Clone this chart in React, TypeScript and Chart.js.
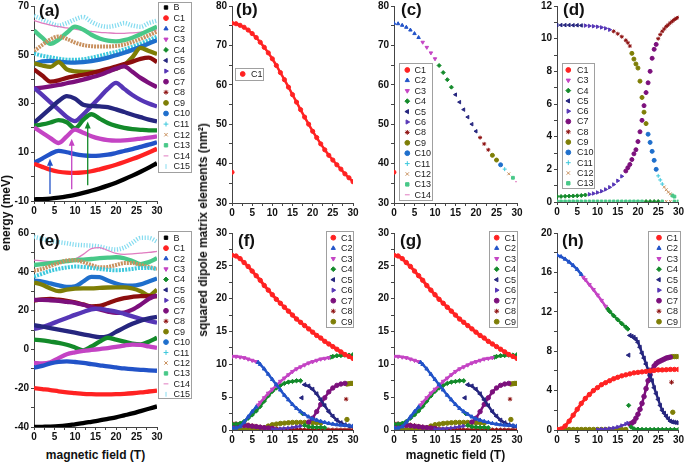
import React, { useEffect, useRef } from 'react';
import { Chart, registerables } from 'chart.js';
import { drawPoint } from 'chart.js/helpers';

Chart.register(...registerables);

const FONT = '"Liberation Sans", Arial, Helvetica, sans-serif';

// ---------------- series styles ----------------
const STYLE: Record<string, { color: string; shape: string; rot?: number }> = {
  B: { color: '#000000', shape: 'rect' },
  C1: { color: '#ff2222', shape: 'circle' },
  C2: { color: '#2253c8', shape: 'triangle' },
  C3: { color: '#c444c4', shape: 'triangle', rot: 180 },
  C4: { color: '#138a2a', shape: 'rectRot' },
  C5: { color: '#26267f', shape: 'triangle', rot: 270 },
  C6: { color: '#5636b6', shape: 'triangle', rot: 90 },
  C7: { color: '#7c107c', shape: 'circle' },
  C8: { color: '#8c0e0e', shape: 'star' },
  C9: { color: '#7e7e06', shape: 'circle' },
  C10: { color: '#1f6fcc', shape: 'circle' },
  C11: { color: '#3cc8dc', shape: 'cross' },
  C12: { color: '#c8915f', shape: 'crossRot' },
  C13: { color: '#48c888', shape: 'rect' },
  C14: { color: '#e07cc0', shape: 'line' },
  C15: { color: '#86dcf0', shape: 'line', rot: 90 },
};

// ---------------- data ----------------
const fieldStep2 = [0, 2, 4, 6, 8, 10, 12, 14, 16, 18, 20, 22, 24, 26, 28, 30];
const fieldStep1 = [0, 1, 2, 3, 4, 5, 6, 7, 8, 9, 10, 11, 12, 13, 14, 15, 16, 17, 18, 19, 20, 21, 22, 23, 24, 25, 26, 27, 28, 29, 30];

// (a) energy levels, upper set (meV)
const aB = [-9.3, -9.2, -9.0, -8.6, -8.1, -7.5, -6.7, -5.8, -4.8, -3.7, -2.5, -1.1, 0.4, 2.0, 3.7, 5.5];
const aC1 = [5.3, 4.0, 2.8, 2.0, 1.6, 1.5, 1.7, 2.2, 3.0, 3.9, 4.9, 6.0, 7.2, 8.5, 9.9, 11.4];
const aC2 = [5.6, 7.4, 9.3, 10.6, 10.0, 9.2, 8.7, 8.5, 8.6, 9.0, 9.7, 10.5, 11.3, 12.2, 13.1, 14.1];
const aC3 = [20.2, 18.0, 15.8, 13.8, 16.5, 19.3, 18.0, 16.6, 15.6, 15.0, 14.8, 14.9, 15.2, 15.6, 16.0, 16.5];
const aC4 = [20.9, 21.4, 22.2, 23.2, 22.3, 19.8, 23.3, 25.6, 23.8, 22.0, 20.8, 20.0, 19.5, 19.2, 19.0, 19.0];
const aC5 = [22.0, 25.0, 28.0, 31.0, 33.0, 32.0, 29.5, 29.0, 28.8, 28.5, 27.6, 26.5, 25.4, 24.4, 23.4, 22.6];
const aC6 = [36.5, 33.5, 30.5, 27.5, 24.5, 22.8, 25.5, 29.0, 32.5, 36.0, 38.5, 36.0, 33.5, 31.5, 30.0, 28.8];
const aC7 = [36.2, 36.5, 37.0, 37.6, 38.3, 39.0, 39.8, 40.7, 41.7, 43.0, 44.3, 45.2, 43.0, 40.5, 38.5, 36.7];
const aC8 = [44.0, 41.5, 39.0, 39.5, 40.5, 41.2, 41.8, 42.5, 43.3, 44.2, 45.2, 46.2, 47.2, 48.3, 48.8, 47.0];
const aC9 = [46.5, 45.6, 45.0, 47.0, 44.0, 43.2, 43.0, 43.0, 43.1, 43.5, 44.3, 45.8, 49.0, 52.8, 51.5, 50.3];
const aC10 = [46.0, 47.3, 47.5, 47.2, 46.9, 46.8, 47.0, 47.4, 48.0, 48.8, 49.8, 50.8, 52.0, 53.3, 54.6, 56.0];
const aC11 = [50.5, 49.6, 49.0, 48.4, 48.0, 47.9, 48.2, 48.8, 49.6, 50.4, 51.2, 52.2, 53.3, 54.6, 56.0, 57.4];
const aC12 = [51.5, 54.0, 56.3, 57.5, 56.5, 55.0, 54.0, 53.5, 53.4, 53.4, 53.6, 54.2, 55.2, 56.5, 58.0, 59.5];
const aC13 = [60.0, 57.0, 54.5, 56.2, 59.0, 61.5, 60.3, 58.2, 56.7, 55.8, 55.5, 56.0, 57.0, 58.4, 60.0, 61.5];
const aC14 = [64.0, 63.0, 62.2, 61.5, 61.0, 60.5, 60.0, 59.6, 59.2, 59.0, 58.8, 58.8, 59.0, 59.3, 59.7, 60.2];
const aC15 = [66.0, 64.5, 63.0, 62.0, 63.0, 64.5, 65.5, 63.5, 62.0, 61.5, 62.0, 63.0, 62.0, 61.5, 63.0, 64.0];

// (a) transition arrows
const arrowField = [3.9, 9.2, 13.1];
const arrowFrom = [-7.1, -5.2, -3.5];
const arrowTo = [7.3, 15.5, 22.6];
const arrowState = ['C2', 'C3', 'C4'];

// (e) energy levels, lower set (meV)
const eB = [-40.0, -39.9, -39.8, -39.6, -39.2, -38.6, -38.0, -37.3, -36.6, -35.8, -35.0, -34.0, -33.0, -31.8, -30.6, -29.4];
const eC1 = [-20.0, -20.5, -21.0, -21.6, -22.1, -22.5, -22.9, -23.1, -23.2, -23.2, -23.1, -22.9, -22.6, -22.2, -21.7, -21.2];
const eC2 = [-9.5, -8.5, -7.2, -6.4, -6.2, -6.5, -7.0, -7.6, -8.2, -8.8, -9.3, -9.8, -10.2, -10.5, -10.8, -11.0];
const eC3 = [-7.0, -7.2, -6.6, -4.5, -2.5, -1.5, -0.8, -0.3, 0.2, 0.7, 1.3, 2.0, 2.5, 2.3, 1.5, 0.8];
const eC4 = [5.0, 4.6, 4.0, 3.4, 2.4, 1.0, -0.5, 1.5, 4.0, 6.0, 5.0, 4.0, 3.0, 2.6, 4.0, 6.0];
const eC5 = [12.5, 11.8, 11.0, 10.2, 9.4, 8.6, 7.8, 7.0, 6.3, 6.8, 9.0, 11.2, 13.2, 14.8, 16.0, 16.8];
const eC6 = [10.5, 11.5, 13.0, 14.6, 16.2, 17.8, 19.3, 20.6, 21.0, 20.2, 19.5, 18.3, 17.0, 15.8, 14.7, 13.8];
const eC7 = [25.5, 25.5, 25.3, 25.0, 24.5, 24.0, 23.0, 21.8, 20.6, 19.5, 18.8, 19.0, 20.5, 23.0, 26.0, 28.0];
const eC8 = [25.2, 25.8, 26.0, 25.6, 25.0, 24.2, 23.2, 22.2, 22.4, 23.8, 25.3, 26.4, 27.1, 27.5, 27.5, 27.3];
const eC9 = [34.5, 33.3, 31.4, 30.0, 30.8, 31.3, 31.5, 31.5, 31.7, 31.9, 32.0, 32.0, 31.4, 30.0, 27.8, 30.8];
const eC10 = [35.5, 35.0, 34.0, 33.0, 32.2, 32.5, 35.0, 37.4, 37.3, 35.5, 34.0, 33.0, 32.8, 33.5, 35.0, 36.5];
const eC11 = [37.5, 39.0, 40.5, 41.5, 42.2, 42.7, 42.5, 42.0, 41.5, 41.0, 40.8, 41.0, 41.5, 42.0, 42.0, 41.5];
const eC12 = [40.5, 41.5, 43.0, 44.5, 45.8, 46.0, 45.0, 43.5, 42.3, 42.5, 43.5, 44.5, 44.5, 43.5, 42.5, 41.5];
const eC13 = [43.5, 44.0, 44.5, 45.0, 45.5, 46.0, 46.3, 46.6, 47.0, 47.3, 47.5, 47.0, 45.5, 44.0, 45.0, 47.0];
const eC14 = [46.0, 45.6, 45.3, 45.0, 45.2, 46.5, 49.0, 52.0, 52.5, 51.0, 49.5, 49.0, 49.2, 49.6, 50.0, 50.5];
const eC15 = [58.0, 57.0, 56.0, 55.3, 54.7, 54.0, 53.7, 53.5, 53.0, 52.0, 51.5, 52.5, 55.0, 57.5, 57.5, 55.5];

// (b) squared dipole element B->C1 (nm^2)
const bC1 = [75.6, 75.5, 75.1, 74.6, 73.9, 73.0, 72.0, 70.8, 69.5, 68.1, 66.6, 64.9, 63.1, 61.3, 59.4, 57.5, 55.6, 53.7, 51.8, 50.0, 48.2, 46.6, 45.0, 43.5, 42.1, 40.9, 39.7, 38.6, 37.4, 36.4, 35.4];
const bC1Extra: [number, number][] = [[0, 37.8]];

// (c) strongest transition, coloured by final state
const cCurve = [75.6, 75.5, 75.1, 74.6, 73.9, 73.0, 72.0, 70.8, 69.5, 68.1, 66.6, 64.9, 63.1, 61.3, 59.4, 57.5, 55.6, 53.7, 51.8, 50.0, 48.2, 46.6, 45.0, 43.5, 42.1, 40.9, 39.7, 38.6, 37.4, 36.4, 35.4];
const cState = ['C2', 'C2', 'C2', 'C2', 'C2', 'C2', 'C2', 'C3', 'C3', 'C3', 'C3', 'C4', 'C4', 'C4', 'C4', 'C5', 'C5', 'C5', 'C5', 'C5', 'C5', 'C8', 'C8', 'C8', 'C9', 'C9', 'C10', 'C11', 'C12', 'C13', 'C14'];
const cC1Extra: [number, number][] = [[0, 37.8]];

// (d)
const dUpperField = [0, 1, 2, 3, 4, 5, 6, 7, 8, 9, 10, 11, 12, 13, 14, 15, 16, 17, 17.5, 18, 18.5, 19, 19.5, 20, 20.5, 21, 21.5, 22, 22.5, 23, 23.5, 24, 24.5, 25, 25.5, 26, 26.5, 27, 27.5, 28, 28.5, 29];
const dUpperVal = [10.83, 10.83, 10.83, 10.83, 10.82, 10.82, 10.81, 10.8, 10.78, 10.76, 10.73, 10.69, 10.63, 10.55, 10.45, 10.3, 10.12, 9.9, 9.75, 9.55, 9.1, 8.75, 8.45, 8.2, 7.4, 6.4, 5.5, 4.8, 4.15, 3.65, 3.1, 2.55, 2.0, 1.6, 1.35, 1.1, 0.92, 0.75, 0.6, 0.5, 0.4, 0.33];
const dUpperState = ['C5', 'C5', 'C5', 'C5', 'C5', 'C5', 'C5', 'C6', 'C6', 'C6', 'C6', 'C6', 'C6', 'C6', 'C8', 'C8', 'C8', 'C8', 'C8', 'C8', 'C9', 'C9', 'C9', 'C9', 'C9', 'C9', 'C9', 'C9', 'C10', 'C10', 'C10', 'C10', 'C10', 'C11', 'C11', 'C11', 'C12', 'C12', 'C12', 'C12', 'C13', 'C13'];
const dLowerField = [0, 1, 2, 3, 4, 5, 6, 7, 8, 9, 10, 11, 12, 13, 14, 15, 16, 17, 17.5, 18, 18.5, 19, 19.5, 20, 20.5, 21, 21.5, 22, 22.5, 23, 23.5, 24, 24.5, 25, 25.5, 26, 26.5, 27, 27.5, 28, 28.5, 29, 29.5, 30];
const dLowerVal = [0.34, 0.34, 0.35, 0.36, 0.37, 0.38, 0.4, 0.43, 0.47, 0.52, 0.58, 0.66, 0.77, 0.9, 1.07, 1.3, 1.57, 1.9, 2.1, 2.3, 2.6, 2.95, 3.2, 3.7, 4.3, 5.0, 5.9, 6.7, 7.3, 8.0, 8.8, 9.35, 9.65, 10.0, 10.25, 10.45, 10.6, 10.75, 10.85, 10.97, 11.07, 11.17, 11.25, 11.3];
const dLowerState = ['C4', 'C4', 'C4', 'C4', 'C4', 'C4', 'C4', 'C4', 'C6', 'C6', 'C6', 'C6', 'C6', 'C6', 'C6', 'C6', 'C6', 'C7', 'C7', 'C7', 'C7', 'C7', 'C7', 'C7', 'C7', 'C7', 'C7', 'C7', 'C7', 'C7', 'C7', 'C7', 'C7', 'C8', 'C8', 'C8', 'C8', 'C8', 'C8', 'C8', 'C8', 'C8', 'C8', 'C8'];
const dZeroVal = [0.04, 0.04, 0.04, 0.04, 0.04, 0.04, 0.04, 0.04, 0.04, 0.04, 0.04, 0.04, 0.04, 0.04, 0.04, 0.04, 0.04, 0.04, 0.04, 0.04, 0.04, 0.04, 0.04, 0.04, 0.04, 0.04, 0.04, 0.04, 0.04, 0.04, 0.04];
const dZeroState = ['C13', 'C13', 'C13', 'C13', 'C13', 'C13', 'C13', 'C13', 'C13', 'C13', 'C13', 'C13', 'C13', 'C13', 'C13', 'C13', 'C13', 'C13', 'C13', 'C13', 'C13', 'C13', 'C4', 'C4', 'C4', 'C4', 'C13', 'C12', 'C12', 'C13', 'C13'];

// (f) and (g) (identical in the figure)
type Seg = [number, number][];
const fC1 = [26.6, 26.5, 26.1, 25.5, 24.9, 24.2, 23.5, 22.8, 22.0, 21.3, 20.6, 19.9, 19.3, 18.7, 18.1, 17.5, 16.9, 16.4, 15.9, 15.4, 14.9, 14.4, 14.0, 13.5, 13.1, 12.7, 12.3, 11.9, 11.5, 11.2, 10.9];
const fC2: Seg[] = [
  [[0, 0.3], [1, 0.3], [2, 0.5], [3, 1.2], [4, 2.0], [5, 2.8], [6, 3.5]],
  [[6.5, 10.3], [7, 10.0], [8, 9.3], [9, 8.5], [10, 7.7], [11, 6.9], [12, 6.1], [13, 5.3], [14, 4.6], [15, 3.9], [16, 3.3], [17, 2.8], [18, 2.4], [19, 2.0], [20, 1.7], [21, 1.5], [22, 1.3], [23, 1.15], [24, 1.0], [25, 0.9], [26, 0.8], [27, 0.75], [28, 0.7], [29, 0.65], [30, 0.6]],
];
const fC3: Seg[] = [
  [[0, 11.2], [1, 11.2], [2, 11.1], [3, 11.0], [4, 10.8], [5, 10.6], [6, 10.4]],
  [[6.5, 3.8], [7, 4.2], [8, 4.9], [9, 5.6], [10, 6.2], [11, 6.8], [12, 7.4], [13, 7.9], [14, 8.4], [15, 8.9], [16, 9.3], [17, 9.6], [18, 9.9], [19, 10.2], [20, 10.4], [21, 10.6], [22, 10.8], [23, 10.9], [24, 11.0]],
];
const fC4: Seg[] = [
  [[0, 0.9], [1, 0.9], [2, 1.0], [3, 1.3], [4, 1.8], [5, 2.3], [6, 2.9], [7, 3.6], [8, 4.4], [9, 5.2], [10, 5.9], [11, 6.4], [12, 6.8], [13, 7.1], [14, 7.3], [15, 7.4], [16, 7.5], [17, 7.5]],
  [[17.5, 2.5]],
  [[18, 0.7], [19, 0.5], [20, 0.45], [21, 0.4], [22, 0.4], [23, 0.35]],
  [[24.5, 11.1], [25, 11.2], [26, 11.3], [27, 11.35], [28, 11.4], [29, 11.4], [30, 11.45]],
];
const fC5: Seg[] = [
  [[17.3, 4.9]],
  [[18, 6.9], [19, 6.7], [20, 6.2], [21, 5.5], [22, 4.6], [23, 3.7], [24, 2.8], [25, 2.1], [26, 1.5], [27, 1.1], [28, 0.8], [29, 0.6], [30, 0.5]],
];
const fC6: Seg[] = [[[10, 0.1], [11, 0.15], [12, 0.2], [13, 0.25], [14, 0.3], [15, 0.4], [16, 0.5], [17, 0.6]]];
const fC7: Seg[] = [
  [[0, 0.8], [1, 0.78], [2, 0.75], [3, 0.7], [4, 0.65], [5, 0.58], [6, 0.5], [7, 0.42], [8, 0.35], [9, 0.3], [10, 0.25]],
  [[19, 1.2], [20, 1.8], [21, 2.8], [22, 3.9], [23, 4.9], [24, 5.8], [25, 6.4], [26, 6.8], [27, 7.0], [28, 7.1]],
];
const fC8: Seg[] = [
  [[0, 1.0], [1, 1.0], [2, 0.95], [3, 0.9], [4, 0.8], [5, 0.7], [6, 0.6], [7, 0.5], [8, 0.4], [9, 0.3], [10, 0.25], [11, 0.2], [12, 0.15], [13, 0.12], [14, 0.1], [15, 0.1], [16, 0.08], [17, 0.06], [18, 0.05], [19, 0.05], [20, 0.05], [21, 0.05], [22, 0.05], [23, 0.05], [24, 0.05], [25, 0.05], [26, 0.05], [27, 0.05], [28, 0.05], [29, 0.05], [30, 0.05]],
  [[28.3, 4.7]],
];
const fC9: Seg[] = [
  [[0, 0.1], [1, 0.1], [2, 0.1], [3, 0.1], [4, 0.1], [5, 0.1], [6, 0.12], [7, 0.2], [8, 0.35], [9, 0.6], [10, 0.8], [11, 0.9], [12, 1.0], [13, 1.05], [14, 1.1], [15, 1.15], [16, 1.15], [17, 1.15], [18, 1.15], [19, 1.15], [20, 1.1], [21, 1.1], [22, 1.05]],
  [[28.5, 1.6]],
  [[28.5, 7.0], [29, 7.05], [29.5, 7.1], [30, 7.1]],
];

// (h)
const hC1 = [0.05, 0.1, 0.4, 0.9, 1.5, 2.1, 2.7, 3.2, 3.6, 4.0, 4.3, 4.6, 4.8, 5.0, 5.2, 5.35, 5.5, 5.6, 5.7, 5.8, 5.85, 5.9, 5.95, 6.0, 6.05, 6.1, 6.1, 6.12, 6.15, 6.15, 6.15];
const hC2: Seg[] = [[[0, 17.75], [1, 17.6], [2, 17.35], [3, 17.05], [4, 16.7], [5, 16.3], [6, 15.8]]];
const hC3: Seg[] = [[[6.5, 15.5], [7, 15.25], [8, 14.75], [9, 14.25], [10, 13.7], [11, 13.15], [12, 12.55]]];
const hC4: Seg[] = [
  [[12.5, 12.3], [13, 12.05], [14, 11.6], [15, 11.2], [16, 10.8], [17, 10.45], [17.5, 10.25]],
  [[17.7, 2.5]],
  [[18.3, 0.3], [19, 0.12], [20, 0.08], [21, 0.06], [22, 0.05], [23, 0.05], [24, 0.05], [25, 0.05], [26, 0.05], [27, 0.05], [28, 0.05], [29, 0.05], [30, 0.05]],
];
const hC5: Seg[] = [
  [[17.7, 7.6]],
  [[18, 9.6], [18.5, 9.5], [19, 9.4], [19.5, 9.2], [20, 8.9], [20.5, 8.4], [21, 7.8], [21.5, 7.3], [22, 6.7], [22.5, 6.1], [23, 5.5], [23.5, 5.0], [24, 4.3], [24.5, 3.7], [25, 3.1], [25.5, 2.5], [26, 2.0], [26.5, 1.7], [27, 1.4], [27.5, 1.15], [28, 0.9], [28.5, 0.82], [29, 0.78], [29.5, 0.75], [30, 0.72]],
];
const hC6: Seg[] = [[[10, 0.05], [11, 0.08], [12, 0.1], [13, 0.15], [14, 0.2], [15, 0.3], [16, 0.45], [17, 0.6], [17.5, 0.7]]];
const hC7: Seg[] = [[[18, 0.6], [18.5, 0.7], [19, 0.85], [19.5, 1.2], [20, 1.6], [20.5, 2.1], [21, 2.7], [21.5, 3.4], [22, 4.2], [22.5, 5.0], [23, 5.6], [23.5, 6.1], [24, 6.5], [24.5, 6.75], [25, 6.9], [25.5, 7.0], [26, 7.1], [26.5, 7.2], [27, 7.3], [27.5, 7.35], [28, 7.4]]];
const hC8: Seg[] = [[[28.3, 4.85]]];
const hC9: Seg[] = [
  [[0, 0.05], [1, 0.05], [2, 0.05], [3, 0.05], [4, 0.05], [5, 0.05], [6, 0.05], [7, 0.05], [8, 0.05], [9, 0.05], [10, 0.05], [11, 0.05], [12, 0.05], [13, 0.05], [14, 0.05], [15, 0.05], [16, 0.05], [17, 0.05]],
  [[28.6, 1.8]],
  [[28.5, 7.45], [29, 7.45], [29.5, 7.45], [30, 7.45]],
];

// ---------------- dataset helpers ----------------
const xy = (xs: number[], ys: number[]) => xs.map((x, i) => ({ x, y: ys[i] }));
const segPoints = (segs: Seg[]) => {
  const out: any[] = [];
  segs.forEach((seg, i) => {
    if (i > 0) out.push({ x: seg[0][0], y: null });
    seg.forEach(([x, y]) => out.push({ x, y }));
  });
  return out;
};

function band(name: string, data: any[], width: number, dash: number[] = []) {
  const st = STYLE[name];
  return {
    label: name, data, showLine: true, borderColor: st.color, backgroundColor: st.color,
    borderWidth: width, borderDash: dash, pointRadius: 0, cubicInterpolationMode: 'monotone',
    spanGaps: false, borderCapStyle: 'butt',
  };
}
function dots(name: string, data: any[], r: number, lineW = 0) {
  const st = STYLE[name];
  return {
    label: name, data, showLine: lineW > 0, borderColor: st.color, backgroundColor: st.color,
    borderWidth: lineW, pointRadius: r, pointStyle: st.shape, rotation: st.rot || 0,
    pointBorderWidth: 1, pointBorderColor: st.color, pointBackgroundColor: st.color,
    tension: 0, spanGaps: false,
  };
}
function byState(xs: number[], ys: number[], states: string[], r: number) {
  const order: string[] = [];
  states.forEach((s) => { if (!order.includes(s)) order.push(s); });
  return order.map((s) => dots(s, xs.map((x, i) => ({ x, y: ys[i] })).filter((_, i) => states[i] === s), r));
}

const C_ALL = ['B', 'C1', 'C2', 'C3', 'C4', 'C5', 'C6', 'C7', 'C8', 'C9', 'C10', 'C11', 'C12', 'C13', 'C14', 'C15'];

function levelSets(vals: Record<string, number[]>) {
  return C_ALL.map((n) => {
    if (n === 'C14') return band(n, xy(fieldStep2, vals[n]), 1.3);
    if (n === 'C15') return band(n, xy(fieldStep2, vals[n]), 4.5, [1.2, 1.6]);
    if (n === 'C11') return band(n, xy(fieldStep2, vals[n]), 4, [2, 1.2]);
    if (n === 'C12') return band(n, xy(fieldStep2, vals[n]), 4, [2, 1]);
    return band(n, xy(fieldStep2, vals[n]), 4.3);
  });
}

const fgSets = () => [
  dots('C1', xy(fieldStep1, fC1), 2.2, 3),
  dots('C2', segPoints(fC2), 2.2, 2.5),
  dots('C3', segPoints(fC3), 2.2, 2.5),
  dots('C4', segPoints(fC4), 2.2, 2.5),
  dots('C5', segPoints(fC5), 2.4, 2.5),
  dots('C6', segPoints(fC6), 2, 2),
  dots('C7', segPoints(fC7), 2.2, 2.5),
  dots('C8', segPoints(fC8), 2.2, 2),
  dots('C9', segPoints(fC9), 2.2, 2.5),
];

// ---------------- panel specs ----------------
const PAD_L = 34, PAD_T = 6, PAD_B = 18;

interface LegendSpec { x: number; y: number; w: number; h: number; firstY: number; rowH: number; markerX: number; textX: number; entries: string[] }
interface PanelSpec {
  id: string; plot: [number, number, number, number]; padR: number;
  yMin: number; yMax: number; yStep: number; yLabelEvery: number; yLabelBase: number;
  datasets: any[]; legend: LegendSpec; arrows?: boolean;
}

const C1to9 = ['C1', 'C2', 'C3', 'C4', 'C5', 'C6', 'C7', 'C8', 'C9'];

const PANELS: PanelSpec[] = [
  {
    id: 'a', plot: [34, 4, 157, 201], padR: 40, yMin: -10, yMax: 70, yStep: 10, yLabelEvery: 20, yLabelBase: -10,
    datasets: levelSets({ B: aB, C1: aC1, C2: aC2, C3: aC3, C4: aC4, C5: aC5, C6: aC6, C7: aC7, C8: aC8, C9: aC9, C10: aC10, C11: aC11, C12: aC12, C13: aC13, C14: aC14, C15: aC15 }),
    legend: { x: 158, y: 2, w: 33, h: 170, firstY: 7.5, rowH: 10.6, markerX: 166, textX: 173.5, entries: C_ALL },
    arrows: true,
  },
  {
    id: 'e', plot: [34, 231, 157, 427], padR: 40, yMin: -40, yMax: 60, yStep: 10, yLabelEvery: 20, yLabelBase: 0,
    datasets: levelSets({ B: eB, C1: eC1, C2: eC2, C3: eC3, C4: eC4, C5: eC5, C6: eC6, C7: eC7, C8: eC8, C9: eC9, C10: eC10, C11: eC11, C12: eC12, C13: eC13, C14: eC14, C15: eC15 }),
    legend: { x: 158, y: 231, w: 33, h: 167, firstY: 237.7, rowH: 10.44, markerX: 166, textX: 173.5, entries: C_ALL },
  },
  {
    id: 'b', plot: [232, 4, 353, 203], padR: 8, yMin: 30, yMax: 80, yStep: 5, yLabelEvery: 10, yLabelBase: 0,
    datasets: [dots('C1', xy(fieldStep1, bC1), 2.1, 2.5), dots('C1', bC1Extra.map(([x, y]) => ({ x, y })), 2.1)],
    legend: { x: 235, y: 68, w: 28, h: 12, firstY: 74, rowH: 10, markerX: 242.7, textX: 251, entries: ['C1'] },
  },
  {
    id: 'c', plot: [394, 4, 517, 203], padR: 8, yMin: 30, yMax: 80, yStep: 5, yLabelEvery: 10, yLabelBase: 0,
    datasets: [...byState(fieldStep1, cCurve, cState, 2.0), dots('C1', cC1Extra.map(([x, y]) => ({ x, y })), 2.0)],
    legend: { x: 399, y: 63, w: 33, h: 137, firstY: 70, rowH: 10.4, markerX: 407.3, textX: 414.5, entries: ['C1', 'C2', 'C3', 'C4', 'C5', 'C6', 'C8', 'C9', 'C10', 'C11', 'C12', 'C13', 'C14'] },
  },
  {
    id: 'd', plot: [557, 4, 679, 202], padR: 6, yMin: 0, yMax: 12, yStep: 1, yLabelEvery: 2, yLabelBase: 0,
    datasets: [
      ...byState(fieldStep1, dZeroVal, dZeroState, 1.8),
      ...byState(dLowerField, dLowerVal, dLowerState, 2.0),
      ...byState(dUpperField, dUpperVal, dUpperState, 2.0),
    ],
    legend: { x: 562, y: 63, w: 32, h: 125, firstY: 70, rowH: 10.3, markerX: 568.3, textX: 577, entries: ['C1', 'C3', 'C4', 'C5', 'C6', 'C7', 'C8', 'C9', 'C10', 'C11', 'C12', 'C13'] },
  },
  {
    id: 'f', plot: [232, 231, 353, 430], padR: 8, yMin: 0, yMax: 30, yStep: 2.5, yLabelEvery: 5, yLabelBase: 0,
    datasets: fgSets(),
    legend: { x: 326, y: 231, w: 27, h: 96, firstY: 237.7, rowH: 10.5, markerX: 333.3, textX: 341, entries: C1to9 },
  },
  {
    id: 'g', plot: [394, 231, 517, 430], padR: 8, yMin: 0, yMax: 30, yStep: 2.5, yLabelEvery: 5, yLabelBase: 0,
    datasets: fgSets(),
    legend: { x: 489, y: 231, w: 28, h: 96, firstY: 237.7, rowH: 10.5, markerX: 496.7, textX: 504.5, entries: C1to9 },
  },
  {
    id: 'h', plot: [557, 231, 679, 430], padR: 6, yMin: 0, yMax: 20, yStep: 2, yLabelEvery: 4, yLabelBase: 0,
    datasets: [
      dots('C1', xy(fieldStep1, hC1), 2.2, 3),
      dots('C2', segPoints(hC2), 2.2, 2.5),
      dots('C3', segPoints(hC3), 2.2, 2.5),
      dots('C4', segPoints(hC4), 2.2, 2.5),
      dots('C5', segPoints(hC5), 2.4, 2.5),
      dots('C6', segPoints(hC6), 2, 2),
      dots('C7', segPoints(hC7), 2.3, 2.5),
      dots('C8', segPoints(hC8), 2.4, 0),
      dots('C9', segPoints(hC9), 2.2, 2.5),
    ],
    legend: { x: 648, y: 231, w: 32, h: 96, firstY: 237.7, rowH: 10.5, markerX: 659, textX: 666.5, entries: C1to9 },
  },
];

// ---------------- chart component ----------------
const isMultiple = (v: number, base: number, every: number) => {
  const q = (v - base) / every;
  return Math.abs(q - Math.round(q)) < 1e-6;
};

function PanelChart({ p }: { p: PanelSpec }) {
  const ref = useRef<HTMLCanvasElement>(null);
  const [x0, y0, x1, y1] = p.plot;
  const left = x0 - PAD_L;
  const top = y0 - PAD_T;
  const W = x1 - x0 + PAD_L + p.padR;
  const H = y1 - y0 + PAD_T + PAD_B;

  useEffect(() => {
    const L = p.legend;
    const legendPlugin = {
      id: 'boxLegend' + p.id,
      afterDraw(chart: any) {
        const ctx = chart.ctx as CanvasRenderingContext2D;
        ctx.save();
        ctx.strokeStyle = '#a0a0a0';
        ctx.lineWidth = 1;
        ctx.strokeRect(Math.round(L.x - left) + 0.5, Math.round(L.y - top) + 0.5, L.w, L.h);
        ctx.font = `9px ${FONT}`;
        ctx.textBaseline = 'middle';
        ctx.textAlign = 'left';
        L.entries.forEach((name, i) => {
          const st = STYLE[name];
          const cy = L.firstY - top + i * L.rowH;
          ctx.fillStyle = st.color;
          ctx.strokeStyle = st.color;
          drawPoint(ctx, { pointStyle: st.shape, rotation: st.rot || 0, radius: 2.4, borderWidth: 1 } as any, L.markerX - left, cy);
          ctx.fillStyle = '#1a1a1a';
          ctx.fillText(name, L.textX - left, cy + 0.5);
        });
        ctx.restore();
      },
    };
    const arrowPlugin = {
      id: 'arrows' + p.id,
      afterDatasetsDraw(chart: any) {
        if (!p.arrows) return;
        const ctx = chart.ctx as CanvasRenderingContext2D;
        const xs = chart.scales.x, ys = chart.scales.y;
        ctx.save();
        arrowField.forEach((f, i) => {
          const col = STYLE[arrowState[i]].color;
          const px = xs.getPixelForValue(f);
          const pa = ys.getPixelForValue(arrowFrom[i]);
          const pb = ys.getPixelForValue(arrowTo[i]);
          ctx.strokeStyle = col;
          ctx.fillStyle = col;
          ctx.lineWidth = 1.3;
          ctx.beginPath();
          ctx.moveTo(px, pa);
          ctx.lineTo(px, pb + 5);
          ctx.stroke();
          ctx.beginPath();
          ctx.moveTo(px, pb);
          ctx.lineTo(px - 3, pb + 7);
          ctx.lineTo(px + 3, pb + 7);
          ctx.closePath();
          ctx.fill();
        });
        ctx.restore();
      },
    };
    const tickFont = { family: FONT, size: 10, weight: 'bold' as const };
    const chart = new Chart(ref.current as HTMLCanvasElement, {
      type: 'scatter',
      data: { datasets: p.datasets },
      options: {
        responsive: false,
        animation: false,
        devicePixelRatio: 1,
        events: [],
        layout: { padding: { left: 0, top: PAD_T, right: p.padR, bottom: 0 }, autoPadding: false } as any,
        plugins: { legend: { display: false }, tooltip: { enabled: false } },
        scales: {
          x: {
            type: 'linear', min: 0, max: 30,
            afterFit: (s: any) => { s.height = PAD_B; },
            ticks: {
              stepSize: 2.5, autoSkip: false, maxRotation: 0, padding: 1, color: '#111', font: tickFont,
              callback: (v: any) => (isMultiple(Number(v), 0, 5) ? String(v) : ''),
            },
            grid: { drawOnChartArea: false, drawTicks: true, tickLength: 3, color: '#444' },
            border: { display: true, color: '#444', width: 1 },
          },
          y: {
            type: 'linear', min: p.yMin, max: p.yMax,
            afterFit: (s: any) => { s.width = PAD_L; },
            ticks: {
              stepSize: p.yStep, autoSkip: false, padding: 2, color: '#111', font: tickFont,
              callback: (v: any) => (isMultiple(Number(v), p.yLabelBase, p.yLabelEvery) ? String(v) : ''),
            },
            grid: { drawOnChartArea: false, drawTicks: true, tickLength: 3, color: '#444' },
            border: { display: true, color: '#444', width: 1 },
          },
        },
      } as any,
      plugins: [legendPlugin, arrowPlugin],
    });
    return () => chart.destroy();
  }, []);

  return (
    <canvas
      ref={ref}
      width={W}
      height={H}
      style={{ position: 'absolute', left, top, width: W, height: H }}
    />
  );
}

const panelLetters: [string, number, number][] = [
  ['(a)', 39, 2], ['(b)', 236, 1], ['(c)', 401, 1], ['(d)', 563, 1],
  ['(e)', 39, 232], ['(f)', 238, 232], ['(g)', 400, 232], ['(h)', 562, 232],
];

const titleStyle: React.CSSProperties = {
  position: 'absolute', fontFamily: FONT, fontWeight: 'bold', fontSize: 12, color: '#111',
  whiteSpace: 'nowrap', lineHeight: '14px',
};

export default function App() {
  return (
    <div style={{ position: 'fixed', left: 0, top: 0, width: 685, height: 463, background: '#fff', overflow: 'hidden' }}>
      {PANELS.map((p) => <PanelChart key={p.id} p={p} />)}
      {panelLetters.map(([t, x, y]) => (
        <div key={t} style={{ position: 'absolute', left: x, top: y, fontFamily: FONT, fontWeight: 'bold', fontSize: 17, lineHeight: '18px', color: '#111' }}>{t}</div>
      ))}
      <div style={{ ...titleStyle, left: 6, top: 213, transform: 'translate(-50%, -50%) rotate(-90deg)' }}>energy (meV)</div>
      <div style={{ ...titleStyle, left: 203, top: 230, transform: 'translate(-50%, -50%) rotate(-90deg)' }}>squared dipole matrix elements (nm²)</div>
      <div style={{ ...titleStyle, left: 95.5, top: 455, transform: 'translate(-50%, -50%)' }}>magnetic field (T)</div>
      <div style={{ ...titleStyle, left: 455.5, top: 455, transform: 'translate(-50%, -50%)' }}>magnetic field (T)</div>
    </div>
  );
}
